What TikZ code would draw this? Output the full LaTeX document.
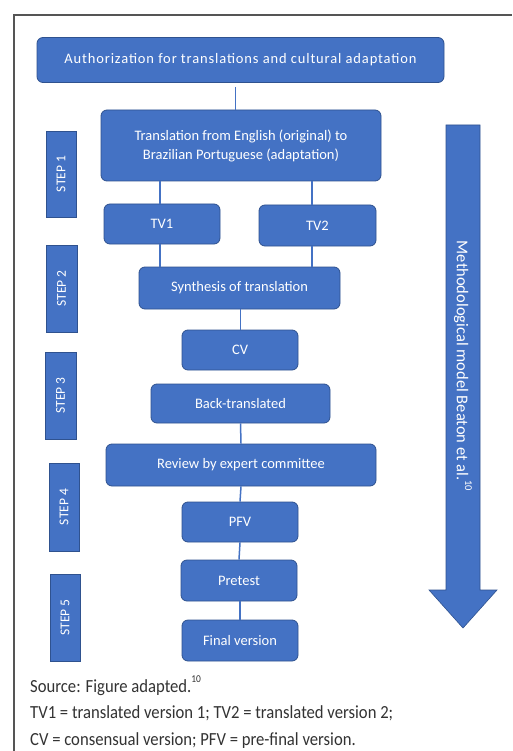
\documentclass[tikz,border=0pt]{standalone}
\usepackage{fontspec}
\setmainfont{Carlito}
\newfontfamily\footfont[FakeStretch=0.9]{Carlito}
\newfontfamily\spacedfont[LetterSpace=6]{Carlito}
\newcommand{\smallsup}[1]{\raisebox{0.5em}{\fontsize{10.5}{11}\selectfont #1}}
\definecolor{boxblue}{HTML}{4472C4}
\definecolor{boxedge}{HTML}{2F528F}
\definecolor{frame}{HTML}{555555}
\definecolor{foot}{HTML}{333333}
\begin{document}
\begin{tikzpicture}[x=1pt,y=-1pt,
  box/.style={draw=boxedge, line width=0.8pt, fill=boxblue, rounded corners=6pt, text=white, font=\fontsize{14.5}{19}\selectfont, align=center, inner sep=0pt},
  stepbar/.style={draw=boxedge, line width=0.6pt, fill=boxblue, inner sep=0pt},
  steptext/.style={text=white, font=\fontsize{13.5}{15}\selectfont, rotate=90},
  conn/.style={draw=boxblue, line width=1.5pt},
  foottext/.style={text=foot, font=\footfont\fontsize{18.5}{20}\selectfont, anchor=base west, inner sep=0pt}]
\useasboundingbox (0,0) rectangle (512,751);
\fill[white] (0,0) rectangle (512,751);
\draw[frame, line width=1.2pt] (14,751) -- (14,15) -- (512,15);

% boxes
\node[box, minimum width=407pt, minimum height=45pt, font=\spacedfont\fontsize{14.5}{19}\selectfont] (auth) at (240.5,60) {Authorization for translations and cultural adaptation};
\node[box, minimum width=280pt, minimum height=71pt] (trans) at (241,145.5) {Translation from English (original) to\\Brazilian Portuguese (adaptation)};
\node[box, minimum width=116pt, minimum height=40pt] (tv1) at (162,224) {TV1};
\node[box, minimum width=117pt, minimum height=41pt] (tv2) at (317.5,225.5) {TV2};
\node[box, minimum width=201pt, minimum height=42pt] (synth) at (239.5,288) {Synthesis of translation};
\node[box, minimum width=116pt, minimum height=40pt] (cv) at (240,350) {CV};
\node[box, minimum width=179pt, minimum height=39pt] (back) at (240.5,403.5) {Back-translated};
\node[box, minimum width=270pt, minimum height=42pt] (review) at (241,465) {Review by expert committee};
\node[box, minimum width=116pt, minimum height=40pt] (pfv) at (240,522) {PFV};
\node[box, minimum width=116pt, minimum height=41pt] (pretest) at (239,580.5) {Pretest};
\node[box, minimum width=116pt, minimum height=41pt] (final) at (240,640.5) {Final version};

% connectors
\coordinate (t1) at (160,0);
\coordinate (t2) at (312,0);
\draw[conn] (auth.south) ++(-5,4) coordinate (a1) -- (a1 |- trans.north);
\draw[conn] (trans.south -| t1) -- (tv1.north -| t1);
\draw[conn] (trans.south -| t2) -- (tv2.north -| t2);
\draw[conn] (tv1.south -| t1) -- (synth.north -| t1);
\draw[conn] (tv2.south -| t2) -- (synth.north -| t2);
\draw[conn] (synth.south) ++(1,0) coordinate (s1) -- (s1 |- cv.north);
\draw[conn] (back.south) -- (review.north);
\draw[conn] (review.south) -- (pfv.north);
\draw[conn] (pfv.south) -- (pretest.north);
\draw[conn] (pretest.south) ++(1,0) coordinate (p1) -- (p1 |- final.north);

% step bars
\node[stepbar, minimum width=30pt, minimum height=86pt] (s1b) at (61,174) {};
\node[steptext] at (s1b) {STEP 1};
\node[stepbar, minimum width=31pt, minimum height=87pt] (s2b) at (61.5,288.5) {};
\node[steptext] at (s2b) {STEP 2};
\node[stepbar, minimum width=31pt, minimum height=87pt] (s3b) at (60.5,395.5) {};
\node[steptext] at (s3b) {STEP 3};
\node[stepbar, minimum width=30pt, minimum height=88pt] (s4b) at (64,507) {};
\node[steptext] at (s4b) {STEP 4};
\node[stepbar, minimum width=30pt, minimum height=87pt] (s5b) at (65,617.5) {};
\node[steptext] at (s5b) {STEP 5};

% big arrow
\draw[boxedge, line width=0.6pt, fill=boxblue] (446,125) -- (480,125) -- (480,590) -- (497,590) -- (463,628) -- (429,590) -- (446,590) -- cycle;
\node[text=white, font=\fontsize{16.5}{18}\selectfont, rotate=-90] (meth) at (463,366) {Methodological model Beaton et al.\smallsup{10}};

% footnotes
\node[foottext] (f1) at (30,692) {Source: Figure adapted.\smallsup{10}};
\node[foottext] (f2) at (30,718) {TV1 = translated version 1; TV2 = translated version 2;};
\node[foottext] (f3) at (30,745) {CV = consensual version; PFV = pre-final version.};
\end{tikzpicture}
\end{document}
